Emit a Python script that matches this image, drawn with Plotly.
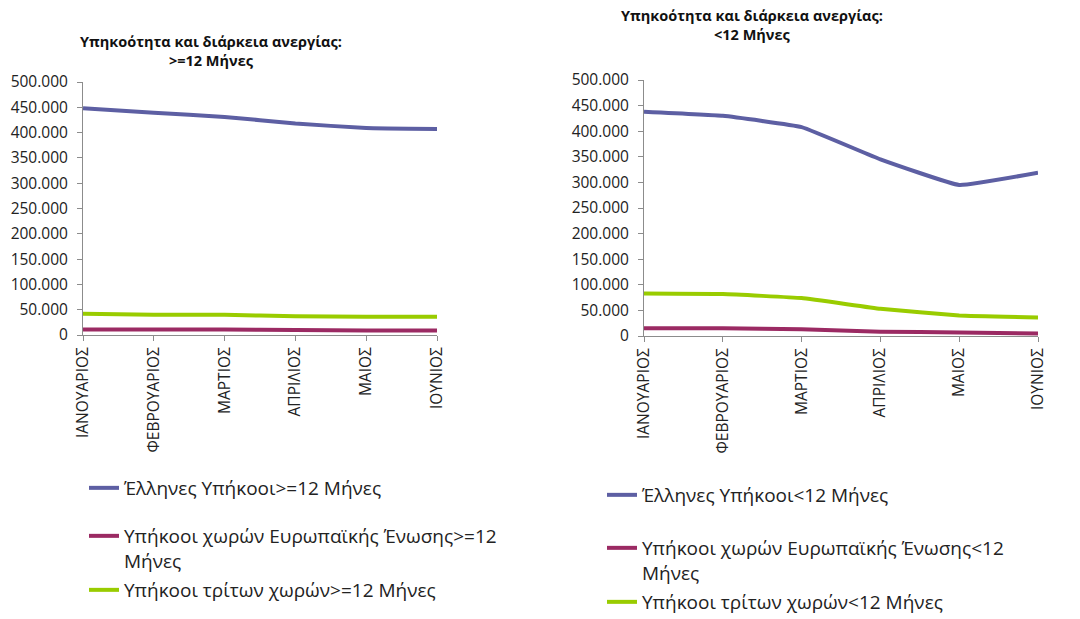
import plotly.graph_objects as go

months = ["ΙΑΝΟΥΑΡΙΟΣ", "ΦΕΒΡΟΥΑΡΙΟΣ", "ΜΑΡΤΙΟΣ", "ΑΠΡΙΛΙΟΣ", "ΜΑΙΟΣ", "ΙΟΥΝΙΟΣ"]

# >=12 months
greek_long = [448000, 439000, 431000, 418000, 409000, 407000]
eu_long = [11000, 11000, 11000, 10000, 9000, 9000]
third_long = [42000, 40000, 40000, 37000, 36000, 36000]

# <12 months
greek_short = [438000, 430000, 408000, 345000, 295000, 319000]
eu_short = [15000, 15000, 13000, 8500, 7000, 5000]
third_short = [83000, 82000, 74000, 53000, 40000, 36000]

names_long = ["Έλληνες Υπήκοοι>=12 Μήνες",
              "Υπήκοοι χωρών Ευρωπαϊκής Ένωσης>=12<br>Μήνες",
              "Υπήκοοι τρίτων χωρών>=12 Μήνες"]
names_short = ["Έλληνες Υπήκοοι<12 Μήνες",
               "Υπήκοοι χωρών Ευρωπαϊκής Ένωσης<12<br>Μήνες",
               "Υπήκοοι τρίτων χωρών<12 Μήνες"]

colors = ["#5D5FA3", "#9B2A63", "#99CC00"]
W, H = 1080, 619
FONT = "Open Sans"

fig = go.Figure()
series_long = [greek_long, eu_long, third_long]
series_short = [greek_short, eu_short, third_short]
for i in range(3):
    fig.add_trace(go.Scatter(x=months, y=series_long[i], name=names_long[i], mode="lines",
                             line=dict(color=colors[i], width=4, shape="spline", smoothing=0.3),
                             xaxis="x", yaxis="y", legend="legend" if i == 0 else f"legend{i+1}"))
for i in range(3):
    fig.add_trace(go.Scatter(x=months, y=series_short[i], name=names_short[i], mode="lines",
                             line=dict(color=colors[i], width=4, shape="spline", smoothing=0.3),
                             xaxis="x2", yaxis="y2", legend=f"legend{i+4}"))

def px_x(p):
    return p / W

def px_y(p):
    return 1 - p / H

axis_common = dict(showgrid=False, zeroline=False, showline=True, linecolor="#8C8C8C",
                   linewidth=1, ticks="outside", tickcolor="#8C8C8C", ticklen=5,
                   automargin=False,
                   tickfont=dict(family=FONT, size=15.5, color="#222"))

xcommon = dict(axis_common, type="category", range=[0, 5], tickangle=-90)
ycommon = dict(axis_common, range=[0, 500000], tickvals=list(range(0, 500001, 50000)),
               tickformat=",d", ticklabelstandoff=6)

layout = dict(
    width=W, height=H, margin=dict(l=0, r=0, t=0, b=0, autoexpand=False),
    showlegend=True,
    paper_bgcolor="white", plot_bgcolor="white", separators=",.",
    font=dict(family=FONT, color="#222"),
    xaxis=dict(xcommon, domain=[px_x(83), px_x(437)], anchor="y"),
    yaxis=dict(ycommon, domain=[px_y(335), px_y(82)], anchor="x"),
    xaxis2=dict(xcommon, domain=[px_x(644), px_x(1038)], anchor="y2"),
    yaxis2=dict(ycommon, domain=[px_y(336), px_y(80)], anchor="x2"),
)

legend_pos = [(84, 469), (84, 517), (84, 571), (602, 476), (602, 529), (602, 583)]
for k, (lx, ly) in enumerate(legend_pos):
    key = "legend" if k == 0 else f"legend{k+1}"
    layout[key] = dict(x=px_x(lx), y=px_y(ly), xanchor="left", yanchor="top",
                       bgcolor="rgba(0,0,0,0)", borderwidth=0, valign="top",
                       font=dict(family=FONT, size=19, color="#222"),
                       itemwidth=30, tracegroupgap=0)

fig.update_layout(**layout)

title_font = dict(family=FONT, size=14.5, color="#111", weight="bold")
fig.add_annotation(text="Υπηκοότητα και διάρκεια ανεργίας:<br>>=12 Μήνες", xref="paper", yref="paper",
                   x=px_x(211), y=px_y(30), xanchor="center", yanchor="top", showarrow=False,
                   font=title_font, align="center")
fig.add_annotation(text="Υπηκοότητα και διάρκεια ανεργίας:<br><12 Μήνες", xref="paper", yref="paper",
                   x=px_x(752), y=px_y(4), xanchor="center", yanchor="top", showarrow=False,
                   font=title_font, align="center")

fig.write_html("out.html", config={"displayModeBar": False},
               post_script="document.body.style.margin='0';document.body.style.padding='0';")
